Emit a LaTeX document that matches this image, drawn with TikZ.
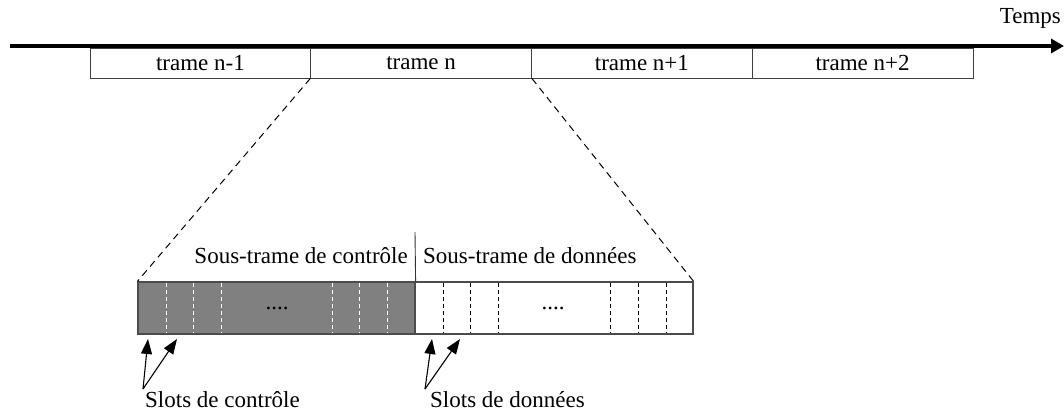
\documentclass[tikz,border=0pt]{standalone}
\usepackage{fontspec}
\setmainfont{Liberation Serif}
\usetikzlibrary{arrows.meta}
\begin{document}
\begin{tikzpicture}[x=1pt,y=-1pt,
  txt/.style={font=\fontsize{23}{27}\selectfont, inner sep=0pt},
  framebox/.style={draw=black!75, line width=0.9pt, minimum width=220.75pt, minimum height=30pt, inner sep=0pt, txt},
  subbar/.style={draw=black!70, line width=1.2pt, minimum height=52pt, inner sep=0pt},
  slotw/.style={white, line width=0.8pt, dash pattern=on 4pt off 3pt},
  slotb/.style={black, line width=0.8pt, dash pattern=on 4pt off 3pt},
  zoomline/.style={black, line width=1pt, dash pattern=on 7pt off 5pt},
  slotarrow/.style={-{Triangle[length=15pt,width=11pt]}, line width=1.1pt}]
\useasboundingbox (0,0) rectangle (1064,411);
% frames
\node[framebox] (f1) at (200.4,63) {trame n-1};
\node[framebox] (f2) at (421.1,63) {trame n};
\node[framebox] (f3) at (641.9,63) {trame n+1};
\node[framebox] (f4) at (862.6,63) {trame n+2};
% time axis
\coordinate (t0) at (10,46);
\coordinate (t1) at (1064,46);
\draw[line width=4pt, -{Triangle[length=13pt,width=14pt]}] (t0) -- (t1);
\node[txt, anchor=east] (temps) at (1061,18) {Temps};
% sub-frames
\node[subbar, fill=black!50, minimum width=277pt] (ctrl) at (276.5,308) {};
\node[subbar, fill=white, minimum width=278pt] (data) at (554,308) {};
\node[txt] (dots1) at (277,308) {....};
\node[txt] (dots2) at (553,308) {....};
\foreach \x in {166,193,221,332,359,387} \draw[slotw] (\x,283) -- (\x,333);
\foreach \x in {443,470,498,610,638,666} \draw[slotb] (\x,283) -- (\x,333);
% separator and labels
\coordinate (sep) at (415,232);
\draw[black!80, line width=0.9pt] (sep) -- (ctrl.north east);
\node[txt, anchor=east] (lctrl) at (408,256) {Sous-trame de contrôle};
\node[txt, anchor=west] (ldata) at (423,256) {Sous-trame de données};
% zoom lines
\draw[zoomline] (f2.south west) -- (ctrl.north west);
\draw[zoomline] (f2.south east) -- (data.north east);
% slot labels and arrows
\node[txt, anchor=north west] (sctrl) at (145,391) {Slots de contrôle};
\node[txt, anchor=north west] (sdata) at (430,391) {Slots de données};
\coordinate (ac) at (143,389);
\coordinate (ad) at (425,389);
\coordinate (hc1) at (148,339);
\coordinate (hc2) at (177,339);
\coordinate (hd1) at (432,339);
\coordinate (hd2) at (460,339);
\draw[slotarrow] (ac) -- (hc1);
\draw[slotarrow] (ac) -- (hc2);
\draw[slotarrow] (ad) -- (hd1);
\draw[slotarrow] (ad) -- (hd2);
\end{tikzpicture}
\end{document}
